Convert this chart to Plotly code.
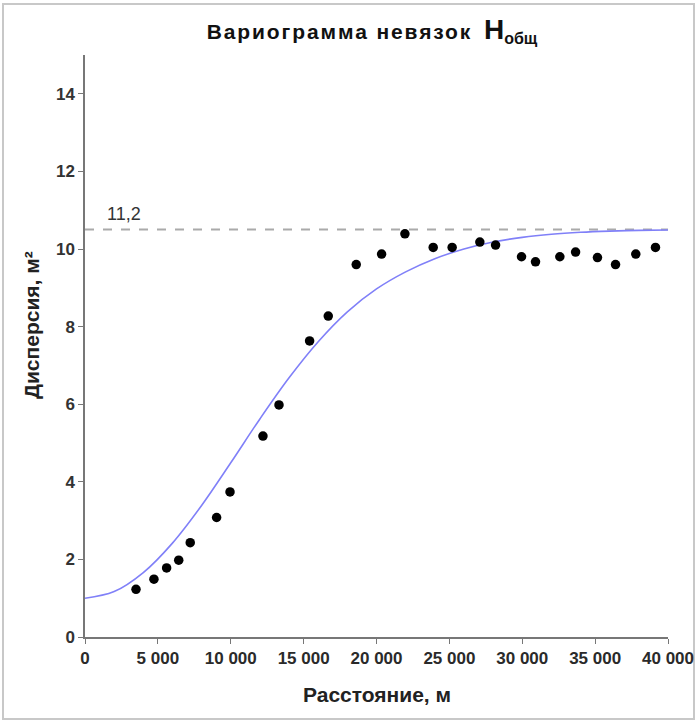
import plotly.graph_objects as go

# Experimental variogram points (distance, m ; dispersion, m^2)
point_x = [3500, 4730, 5600, 6430, 7220, 9030, 9950, 12210, 13310, 15410, 16690,
           18610, 20350, 21950, 23890, 25190, 27090, 28170, 29950, 30910, 32580,
           33660, 35160, 36400, 37790, 39140]
point_y = [1.23, 1.49, 1.78, 1.98, 2.43, 3.08, 3.74, 5.18, 5.98, 7.63, 8.27,
           9.60, 9.87, 10.39, 10.04, 10.04, 10.18, 10.10, 9.80, 9.67, 9.80,
           9.92, 9.78, 9.60, 9.87, 10.04]

# Model curve
curve_x = [0, 2000, 4000, 6000, 8000, 10000, 12000, 14000, 16000, 18000, 20000,
           22000, 24000, 26000, 28000, 30000, 32000, 34000, 36000, 38000, 40000]
curve_y = [1.00, 1.17, 1.66, 2.42, 3.39, 4.49, 5.62, 6.68, 7.61, 8.38, 8.97,
           9.41, 9.75, 10.00, 10.18, 10.30, 10.38, 10.43, 10.46, 10.48, 10.49]

sill_value = 10.5
sill_label = "11,2"
x_ticks = [0, 5000, 10000, 15000, 20000, 25000, 30000, 35000, 40000]
y_ticks = [0, 2, 4, 6, 8, 10, 12, 14]

FONT = "Liberation Sans, Arial, sans-serif"

fig = go.Figure()
fig.add_trace(go.Scatter(x=[x_ticks[0], x_ticks[-1]], y=[sill_value, sill_value],
                         mode="lines", line=dict(color="#aaaaaa", width=2, dash="dash"),
                         hoverinfo="skip", showlegend=False))
fig.add_trace(go.Scatter(x=curve_x, y=curve_y, mode="lines", line_shape="spline",
                         line=dict(color="#8080f8", width=1.6), showlegend=False))
fig.add_trace(go.Scatter(x=point_x, y=point_y, mode="markers",
                         marker=dict(color="black", size=9.5), showlegend=False))

title_text = ("<b><span style='letter-spacing:1.9px'>Вариограмма невязок</span>&nbsp; "
              "<span style='font-size:28px'>H</span>"
              "<sub><span style='font-size:16px'>общ</span></sub></b>")

fig.update_layout(
    width=697, height=722, autosize=False,
    margin=dict(l=85, r=29, t=55, b=85, autoexpand=False),
    paper_bgcolor="white", plot_bgcolor="white",
    separators=", ",
    font=dict(family=FONT, color="#222222", size=13),
    title=dict(text=title_text, automargin=False,
               x=(372 - 85) / 583, xref="paper", xanchor="center",
               y=1 - 32 / 722, yref="container", yanchor="middle",
               font=dict(family=FONT, size=21, color="#111111")),
    xaxis=dict(range=[0, 40000], tickvals=x_ticks, tickformat=",d", automargin=False,
               showgrid=False, zeroline=False, showline=True, linecolor="#777777",
               linewidth=1.5, ticks="outside", ticklen=5, tickcolor="#777777",
               tickfont=dict(size=17, color="#2a2a2a", weight="bold")),
    yaxis=dict(range=[0, 15], tickvals=y_ticks, showgrid=False, zeroline=False,
               automargin=False,
               showline=True, linecolor="#777777", linewidth=1.5,
               ticks="outside", ticklen=5, tickcolor="#777777",
               tickfont=dict(size=17, color="#333333", weight="bold")),
    annotations=[
        dict(text="<b>Расстояние, м</b>", xref="paper", yref="paper",
             x=(377 - 85) / 583, y=(637 - 694) / 582, xanchor="center",
             yanchor="middle", showarrow=False,
             font=dict(size=21, color="#222222")),
        dict(text="<b>Дисперсия, м²</b>", xref="paper", yref="paper",
             x=(31 - 85) / 583, y=(637 - 325) / 582, textangle=-90,
             xanchor="center", yanchor="middle", showarrow=False,
             font=dict(size=21, color="#222222")),
        dict(text=sill_label, x=1370, y=sill_value, xanchor="left", yanchor="bottom",
             yshift=4, showarrow=False, font=dict(size=18, color="#333333")),
    ],
    shapes=[
        dict(type="rect", xref="paper", yref="paper",
             x0=(3 - 85) / 583, x1=(694 - 85) / 583,
             y0=(637 - 719) / 582, y1=(637 - 4) / 582,
             line=dict(color="#c8c8c8", width=2), fillcolor="rgba(0,0,0,0)", layer="below"),
    ],
)

fig.write_html("out.html", config={"displayModeBar": False},
               post_script="document.body.style.margin='0';")
